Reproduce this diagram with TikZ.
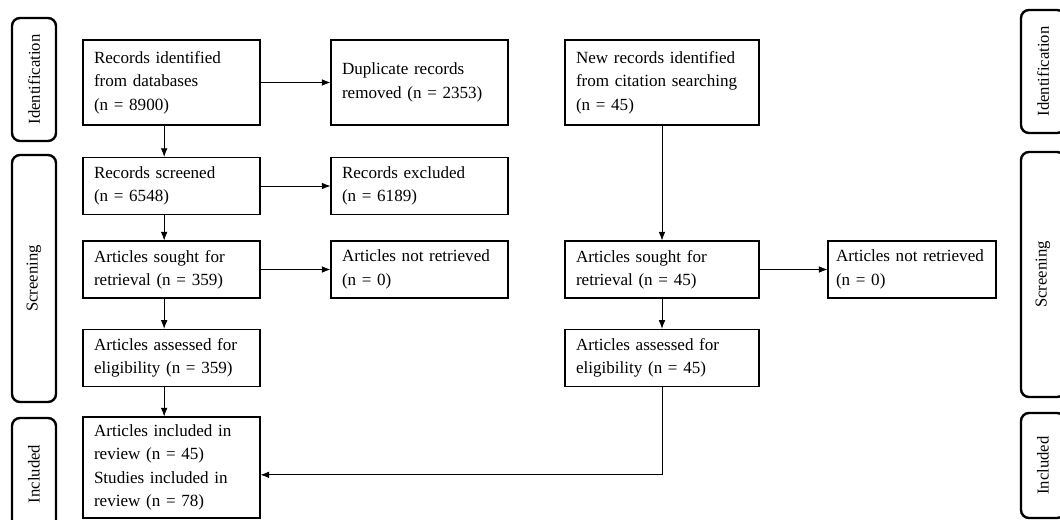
\documentclass[tikz,border=0pt]{standalone}
\usepackage{fontspec}
\setmainfont{Liberation Serif}
\usetikzlibrary{arrows.meta}

\begin{document}
\begin{tikzpicture}[
  x = 0.75pt, y = -0.75pt,
  > = {Latex[length=6.5pt,width=5pt]},
  box/.style = {draw,line width=0.8pt,align=left,inner xsep=8.25pt,inner ysep=0pt,font=\fontsize{12.8}{17.5}\selectfont},
  narrow/.style = {box,text width=116.25pt},
  wide/.style = {box,text width=129pt},
  slim/.style = {box,inner xsep=6pt,text width=114pt},
  tall/.style = {minimum height=63.75pt},
  flat/.style = {minimum height=42.75pt},
  stage/.style = {draw,line width=1.8pt,rounded corners=6pt,rotate=90,minimum height=33pt,inner sep=0pt,font=\fontsize{12.5}{14}\selectfont},
  link/.style = {->,line width=0.6pt}
  ]
  \useasboundingbox (0,0) rectangle (1060,520);
  % stages
  \node[stage,minimum width=92.25pt] (idL) at (34,79.5) {Identification};
  \node[stage,minimum width=185.25pt] (scL) at (34,278.5) {Screening};
  \node[stage,minimum width=84pt] (inL) at (34,474) {Included};
  \node[stage,minimum width=92.25pt] (idR) at (1043,71.5) {Identification};
  \node[stage,minimum width=183.75pt] (scR) at (1043,274.5) {Screening};
  \node[stage,minimum width=78.75pt] (inR) at (1043,465.5) {Included};
  % databases
  \node[narrow,tall] (rec) at (171.5,82.5) {Records identified\\from databases\\(n = 8900)};
  \node[narrow,tall] (dup) at (419.5,82.5) {Duplicate records\\removed (n = 2353)};
  \node[narrow,flat] (scr) at (171.5,186) {Records screened\\(n = 6548)};
  \node[narrow,flat] (excl) at (419.5,186) {Records excluded\\(n = 6189)};
  \node[narrow,flat] (sought) at (171.5,269.5) {Articles sought for\\retrieval (n = 359)};
  \node[narrow,flat] (notret) at (419.5,269.5) {Articles not retrieved\\(n = 0)};
  \node[narrow,minimum height=43pt] (assess) at (171.5,358) {Articles assessed for\\eligibility (n = 359)};
  \node[narrow,minimum height=75.75pt] (incl) at (171.5,467.5) {Articles included in\\review (n = 45)\\Studies included in\\review (n = 78)};
  % citation searching
  \node[wide,tall] (new) at (662,82.5) {New records identified\\from citation searching\\(n = 45)};
  \node[wide,flat] (sought2) at (662,269.5) {Articles sought for\\retrieval (n = 45)};
  \node[slim,flat] (notret2) at (912,269.5) {Articles not retrieved\\(n = 0)};
  \node[wide,minimum height=43pt] (assess2) at (662,358) {Articles assessed for\\eligibility (n = 45)};
  % links
  \draw[link] (rec) -- (dup);
  \draw[link] (scr) -- (excl);
  \draw[link] (sought) -- (notret);
  \draw[link] ([xshift=-5.5pt]rec.south) -- ([xshift=-5.5pt]scr.north);
  \draw[link] ([xshift=-5.5pt]scr.south) -- ([xshift=-5.5pt]sought.north);
  \draw[link] ([xshift=-5.5pt]sought.south) -- ([xshift=-5.5pt]assess.north);
  \draw[link] ([xshift=-5.5pt]assess.south) -- ([xshift=-5.5pt]incl.north);
  \draw[link] (new) -- (sought2);
  \draw[link] (sought2) -- (notret2);
  \draw[link] (sought2) -- (assess2);
  \draw[link] (assess2.south) |- ([yshift=-5.5pt]incl.east);
\end{tikzpicture}
\end{document}
